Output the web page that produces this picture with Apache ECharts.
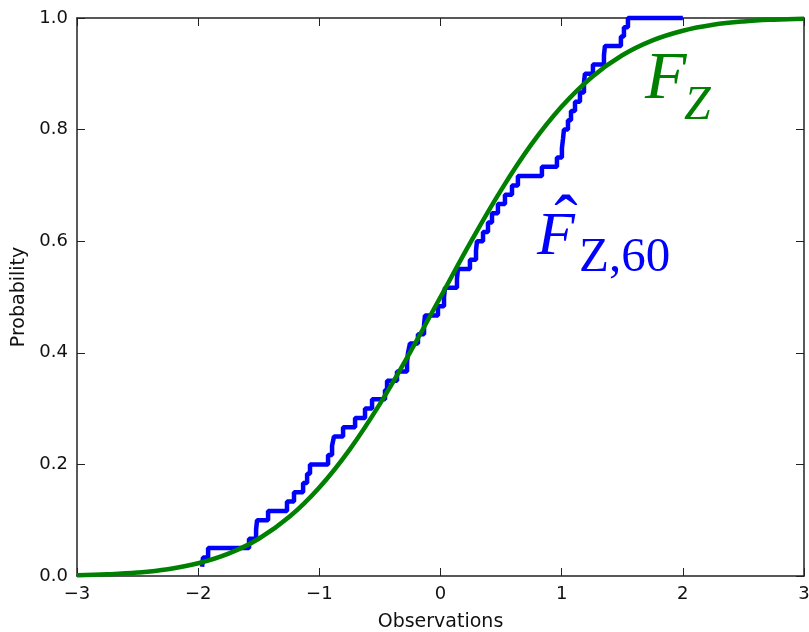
<!DOCTYPE html>
<html>
<head>
<meta charset="utf-8">
<script src="https://cdn.jsdelivr.net/npm/echarts@6/dist/echarts.min.js"></script>
<style>
html,body{margin:0;padding:0;background:#fff;}
#chart{width:809px;height:632px;}
</style>
</head>
<body>
<div id="chart"></div>
<script>
// Sorted observations (60 samples) read from the empirical CDF steps
var observations = [
  -1.968, -1.960, -1.918, -1.580, -1.522, -1.514, -1.423, -1.267, -1.209, -1.134,
  -1.101, -1.077, -0.928, -0.895, -0.879, -0.804, -0.705, -0.623, -0.565, -0.458,
  -0.441, -0.359, -0.276, -0.268, -0.252, -0.186, -0.136, -0.128, -0.021, 0.029,
  0.037, 0.136, 0.144, 0.243, 0.293, 0.301, 0.351, 0.392, 0.425, 0.474,
  0.532, 0.590, 0.639, 0.837, 0.961, 1.002, 1.011, 1.019, 1.052, 1.077,
  1.110, 1.151, 1.184, 1.192, 1.258, 1.349, 1.357, 1.489, 1.514, 1.547
];
var ecdfEndX = 2.0;

// Theoretical CDF
var cdfX = [-3, -2.75, -2.5, -2.25, -2, -1.75, -1.5, -1.25, -1, -0.75, -0.5, -0.25, 0,
            0.25, 0.5, 0.75, 1, 1.25, 1.5, 1.75, 2, 2.25, 2.5, 2.75, 3];
var cdfY = [0.0013, 0.0030, 0.0062, 0.0122, 0.0228, 0.0401, 0.0668, 0.1056, 0.1587, 0.2266,
            0.3085, 0.4013, 0.5, 0.5987, 0.6915, 0.7734, 0.8413, 0.8944, 0.9332, 0.9599,
            0.9772, 0.9878, 0.9938, 0.9970, 0.9987];

var xTicks = [-3, -2, -1, 0, 1, 2, 3];
var yTicks = [0.0, 0.2, 0.4, 0.6, 0.8, 1.0];

var n = observations.length;
var ecdfData = observations.map(function (x, i) { return [x, (i + 1) / n]; });
ecdfData.push([ecdfEndX, 1.0]);
var cdfData = cdfX.map(function (x, i) { return [x, cdfY[i]]; });

var FONT = 'DejaVu Sans';
var chart = echarts.init(document.getElementById('chart'), null, {renderer: 'canvas'});

function axisBase(extra) {
  var base = {
    type: 'value',
    axisLine: {show: true, onZero: false, lineStyle: {color: '#222', width: 1.5}},
    axisTick: {show: true, inside: true, length: 8, lineStyle: {color: '#222', width: 1}},
    splitLine: {show: false}
  };
  for (var k in extra) base[k] = extra[k];
  return base;
}

chart.setOption({
  animation: false,
  backgroundColor: '#fff',
  grid: {left: 77, right: 5, top: 18, bottom: 56, containLabel: false, outerBoundsMode: 'none'},
  xAxis: [
    axisBase({
      position: 'bottom', min: xTicks[0], max: xTicks[xTicks.length - 1], interval: 1,
      name: 'Observations', nameLocation: 'middle', nameGap: 37,
      nameTextStyle: {fontFamily: FONT, fontSize: 19, color: '#111'},
      axisLabel: {
        margin: 9, fontFamily: FONT, fontSize: 18, color: '#111',
        formatter: function (v) { return String(v).replace('-', '\u2212'); }
      }
    }),
    axisBase({
      position: 'top', min: xTicks[0], max: xTicks[xTicks.length - 1], interval: 1,
      axisLabel: {show: false}
    })
  ],
  yAxis: [
    axisBase({
      position: 'left', min: yTicks[0], max: yTicks[yTicks.length - 1], interval: 0.2,
      name: 'Probability', nameLocation: 'middle', nameGap: 46, nameRotate: 90,
      nameTextStyle: {fontFamily: FONT, fontSize: 19, color: '#111'},
      axisLabel: {
        margin: 9, fontFamily: FONT, fontSize: 18, color: '#111',
        formatter: function (v) { return v.toFixed(1); }
      }
    }),
    axisBase({
      position: 'right', min: yTicks[0], max: yTicks[yTicks.length - 1], interval: 0.2,
      axisLabel: {show: false}
    })
  ],
  series: [
    {
      type: 'line', name: 'ECDF', data: ecdfData, step: 'end',
      showSymbol: false, symbol: 'none', clip: false,
      lineStyle: {color: '#0000ff', width: 4.5}, z: 2
    },
    {
      type: 'line', name: 'CDF', data: cdfData, smooth: 0.4,
      showSymbol: false, symbol: 'none', clip: false,
      lineStyle: {color: '#008000', width: 4.5}, z: 3
    }
  ],
  graphic: [
    {type: 'text', x: 645, y: 80, z: 10, style: {text: 'F', fill: '#008000',
      font: 'italic 68px "Liberation Serif"', textAlign: 'left', textVerticalAlign: 'middle'}},
    {type: 'text', x: 684, y: 106, z: 10, style: {text: 'Z', fill: '#008000',
      font: 'italic 48px "Liberation Serif"', textAlign: 'left', textVerticalAlign: 'middle'}},
    {type: 'text', x: 537, y: 238, z: 10, style: {text: 'F', fill: '#0000ff',
      font: 'italic 62px "Liberation Serif"', textAlign: 'left', textVerticalAlign: 'middle'}},
    {type: 'text', x: 566, y: 225, z: 10, style: {text: '\u02C6', fill: '#0000ff',
      font: '70px "Liberation Serif"', textAlign: 'center', textVerticalAlign: 'middle'}},
    {type: 'text', x: 579, y: 258, z: 10, style: {text: 'Z,60', fill: '#0000ff',
      font: '49px "Liberation Serif"', textAlign: 'left', textVerticalAlign: 'middle'}}
  ]
});
</script>
</body>
</html>
